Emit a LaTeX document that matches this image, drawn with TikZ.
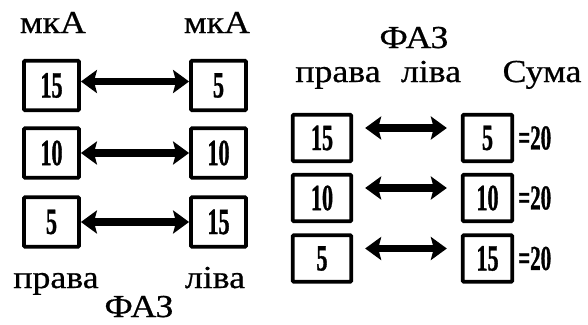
\documentclass[tikz,border=0pt]{standalone}
\usepackage{fontspec}
\setmainfont{Liberation Serif}
\newfontfamily\labelfont[FakeStretch=1.12,FakeBold=0.6]{Liberation Serif}
\newfontfamily\numfont[FakeStretch=0.6,FakeBold=0.8]{Liberation Serif}
\usetikzlibrary{arrows.meta}
\begin{document}
\begin{tikzpicture}[x=1pt,y=-1pt,
  lbl/.style={font=\labelfont\fontsize{32}{36}\selectfont, anchor=base, inner sep=0pt},
  valbox/.style={draw, line width=3.8pt, rounded corners=1pt, inner sep=0pt,
    font=\numfont\bfseries\fontsize{37}{40}\selectfont},
  lbox/.style={valbox, minimum width=55pt, minimum height=49.5pt},
  rboxa/.style={valbox, minimum width=58.5pt, minimum height=46.5pt},
  rboxb/.style={valbox, minimum width=49.5pt, minimum height=46.5pt},
  sumtxt/.style={font=\numfont\bfseries\fontsize{35}{38}\selectfont, inner sep=0pt},
  biarrow/.style={line width=7.5pt, {Stealth[width=23pt,length=16pt,inset=3pt]}-{Stealth[width=23pt,length=16pt,inset=3pt]}}
]
\useasboundingbox (0,0) rectangle (588,324);

% ---- left panel ----
\node[lbl] (mkaL) at (53,33) {мкА};
\node[lbl] (mkaR) at (217,33) {мкА};

\node[lbox] (l1) at (51.5,85.5) {15};
\node[lbox] (l2) at (51.5,153) {10};
\node[lbox] (l3) at (51.5,222) {5};
\node[lbox] (r1) at (218.5,85.5) {5};
\node[lbox] (r2) at (218.5,153) {10};
\node[lbox] (r3) at (218.5,222) {15};

\draw[biarrow] ([yshift=4pt]l1.east) -- ([yshift=4pt]r1.west);
\draw[biarrow] (l2.east) -- (r2.west);
\draw[biarrow] (l3.east) -- (r3.west);

\node[lbl] (pravaL) at (56,288) {права};
\node[lbl] (livaL) at (215,288) {ліва};
\node[lbl] (fazL) at (139,317) {ФАЗ};

% ---- right panel ----
\node[lbl] (fazR) at (414,48) {ФАЗ};
\node[lbl] (pravaR) at (338,82) {права};
\node[lbl] (livaR) at (431,82) {ліва};
\node[lbl] (suma) at (542,82) {Сума};

\node[rboxa] (a1) at (322,138) {15};
\node[rboxa] (a2) at (322,198) {10};
\node[rboxa] (a3) at (322,258.5) {5};
\node[rboxb] (b1) at (487.5,138) {5};
\node[rboxb] (b2) at (487.5,198) {10};
\node[rboxb] (b3) at (487.5,258.5) {15};

\foreach \i in {1,2,3}
  \draw[biarrow, shorten <=12pt, shorten >=14pt]
    ([yshift=10pt]a\i.east) -- ([yshift=10pt]b\i.west);

\node[sumtxt, anchor=west] (s1) at (518,138) {=20};
\node[sumtxt, anchor=west] (s2) at (518,198) {=20};
\node[sumtxt, anchor=west] (s3) at (518,258.5) {=20};
\end{tikzpicture}
\end{document}
